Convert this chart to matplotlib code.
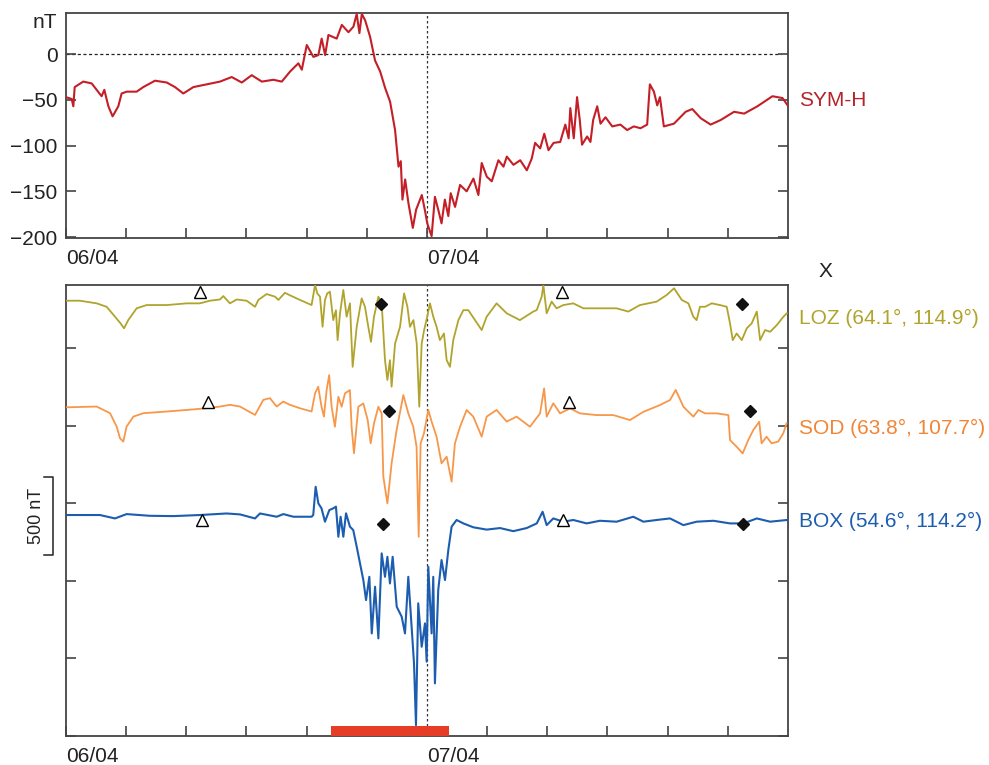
import numpy as np
import matplotlib.pyplot as plt
import matplotlib.transforms as mtransforms

plt.rcParams['font.family'] = ['Liberation Sans', 'DejaVu Sans']

# ---- SYM-H (hours from 06/04 00:00, nT) ----
symh_t = [0, 0.38, 0.49, 0.58, 1.15, 1.71, 2.04, 2.37, 2.55, 2.82,
          3.10, 3.48, 3.70, 4.04, 4.70, 5.14, 5.92, 6.70, 7.25, 7.80,
          8.47, 9.36, 10.24, 11.02, 11.69, 12.35, 13.02, 13.79, 14.35, 14.90,
          15.45, 15.68, 16.01, 16.45, 16.78, 17.0, 17.23, 17.45, 18.0, 18.34,
          18.78, 19.11, 19.33, 19.51, 19.67, 19.89, 20.22, 20.55, 20.89, 21.22,
          21.55, 21.88, 22.11, 22.26, 22.37, 22.55, 22.77, 23.06, 23.28, 23.66,
          23.88, 24.02, 24.31, 24.53, 24.75, 24.97, 25.19, 25.42, 25.58, 25.87,
          26.2, 26.64, 27.09, 27.42, 27.64, 27.98, 28.31, 28.75, 29.09, 29.31,
          29.75, 30.2, 30.64, 30.97, 31.19, 31.53, 31.8, 32.08, 32.42, 32.86,
          33.2, 33.42, 33.53, 33.76, 33.98, 34.16, 34.31, 34.65, 34.87, 35.05,
          35.32, 35.54, 35.87, 36.32, 36.86, 37.31, 37.75, 38.2, 38.64, 38.82,
          39.09, 39.31, 39.49, 39.75, 40.42, 41.2, 41.64, 42.2, 42.86, 43.53,
          44.42, 45.09, 45.97, 46.97, 47.64, 47.98]
symh_v = [-47, -49, -57, -36, -30, -32, -39, -46, -39, -57,
          -68, -57, -43, -41, -41, -36, -29, -31, -36, -43,
          -36, -33, -30, -25, -31, -23, -30, -28, -30, -19,
          -10, -17, 10, -3, -1, 17, -1, 21, 17, 32,
          24, 30, 44, 23, 44, 37, 19, -7, -19, -37,
          -52, -83, -123, -117, -159, -137, -163, -190, -170, -154,
          -172, -185, -199, -156, -170, -185, -159, -177, -152, -167,
          -143, -150, -136, -154, -119, -134, -139, -116, -123, -112,
          -121, -116, -127, -114, -97, -103, -87, -105, -97, -96,
          -77, -92, -59, -92, -47, -72, -99, -90, -96, -72,
          -57, -76, -69, -79, -77, -83, -79, -81, -77, -33,
          -41, -56, -47, -79, -76, -63, -60, -70, -77, -72,
          -63, -65, -57, -46, -48, -56]

# ---- X component, stacked with offsets (nT) ----
loz_t = [0, 0.93, 2.04, 2.7, 3.26, 3.63, 3.86, 4.14, 4.7, 5.36, 6.7, 8.02, 8.9, 9.57,
         10.24, 10.46, 10.9, 11.35, 12.01, 12.57, 12.79, 13.34, 13.9, 14.12, 14.56, 14.89,
         15.56, 16.33,
         16.56, 16.71, 16.89, 17.06, 17.22, 17.37, 17.55, 17.77, 17.95, 18.06, 18.22, 18.44,
         18.66, 18.88, 19.06, 19.33, 19.66, 19.88, 20.1, 20.28, 20.48, 20.77, 20.99, 21.21,
         21.37, 21.54, 21.65, 21.88, 22.21, 22.48, 22.7, 22.87, 23.1, 23.32, 23.49, 23.65,
         23.81, 24.02, 24.2, 24.42, 24.64, 24.86, 25.13, 25.31, 25.53, 25.75, 26.09,
         26.42, 26.75, 27.64, 27.97, 28.63, 29.3, 30.18, 31.07,
         31.3, 31.63, 31.74, 31.96, 32.29, 32.62, 33.07, 33.73, 34.4, 35.28, 36.61, 37.39,
         38.16, 39.27, 39.94, 40.43, 40.94, 41.38, 41.71, 41.93, 42.15, 42.49, 42.93, 43.48,
         43.93, 44.15, 44.33, 44.59, 44.93, 45.26, 45.59, 45.93, 46.15, 46.48, 46.82, 47.26,
         47.7, 47.93]
loz_v = [2805, 2805, 2788, 2766, 2702, 2659, 2627, 2680, 2756, 2777, 2777, 2788, 2788, 2805,
         2813, 2835, 2788, 2813, 2805, 2766, 2810, 2848, 2831, 2810, 2856, 2840,
         2810, 2777,
         2906, 2852, 2831, 2637, 2810, 2852, 2863, 2680, 2744, 2551, 2723, 2874,
         2702, 2788, 2379, 2637, 2820, 2766, 2637, 2540, 2702, 2831, 2788, 2422,
         2294, 2422, 2251, 2529, 2637, 2852, 2766, 2637, 2680, 2529, 2122, 2529,
         2615, 2702, 2788, 2702, 2637, 2551, 2594, 2422, 2379, 2551, 2680,
         2744, 2744, 2616, 2702, 2788, 2724, 2680, 2735,
         2745, 2831, 2906, 2724, 2799, 2756, 2777, 2788, 2756, 2756, 2756, 2735,
         2777, 2799, 2842, 2885, 2810, 2788, 2702, 2680, 2766, 2766, 2788, 2777,
         2766, 2659, 2551, 2594, 2551, 2627, 2659, 2735, 2551, 2616, 2605, 2648,
         2702, 2724]

sod_t = [0, 2.04, 2.93, 3.37, 3.59, 3.81, 4.03, 4.48, 5.14, 6.7, 8.02, 9.35, 10.24, 10.9,
         11.57, 12.57, 13.12, 13.56, 14.01, 14.45, 14.89, 15.56, 16.33,
         16.56, 16.77, 16.99, 17.15, 17.33, 17.5, 17.66, 17.88, 18.11, 18.33, 18.55, 18.88,
         18.99, 19.15, 19.44, 19.77, 20.06, 20.26, 20.48, 20.77, 20.99,
         21.1, 21.37, 21.65, 21.98, 22.43, 22.76, 23.09, 23.31, 23.45, 23.58, 23.8, 24.09,
         24.31, 24.64, 24.97, 25.31, 25.64, 25.86, 26.2, 26.64, 27.08, 27.64, 27.97, 28.63,
         29.3, 29.96, 30.85,
         31.52, 31.79, 31.96, 32.4, 32.85, 33.51, 34.18, 35.28, 36.39, 37.5, 38.39, 39.5,
         40.16, 40.54, 41.05, 41.71, 42.05, 42.49, 43.26, 44.04, 44.15, 44.59, 44.99, 45.36,
         45.7, 46.09, 46.25, 46.58, 46.91, 47.35, 47.69, 47.91]
sod_v = [2118, 2123, 2080, 1994, 1919, 1897, 1994, 2058, 2080, 2091, 2101, 2112, 2123, 2134,
         2123, 2069, 2166, 2177, 2123, 2155, 2134, 2112, 2091,
         2208, 2251, 2122, 2058, 2229, 2326, 2122, 1993, 2186, 2122, 2208, 2229,
         1993, 1822, 2122, 2143, 2036, 1886, 2015, 2122, 2079,
         1671, 1499, 1757, 1971, 2197, 2079, 1993, 1864, 1284, 1886, 1950, 2101,
         2026, 1929, 1757, 1800, 1639, 1886, 1993, 2101, 2058, 1929, 2058, 2101,
         2026, 2058, 1993,
         2079, 2240, 2058, 2144, 2079, 2111, 2079, 2068, 2068, 2036, 2089, 2133,
         2165, 2230, 2122, 2058, 2101, 2079, 2079, 2068, 1907, 1864, 1821, 1907,
         1972, 2025, 1886, 1929, 1886, 1897, 1950, 2015]

box_t = [0, 2.26, 3.26, 4.03, 5.58, 7.14, 8.9, 10.68, 11.57, 12.57, 12.9, 14.01, 14.45,
         15.12, 16.33,
         16.44, 16.6, 16.78, 16.99, 17.22, 17.51, 17.77, 17.95, 18.11, 18.26, 18.44, 18.62,
         18.88, 19.1, 19.33, 19.55, 19.77, 19.95, 20.17, 20.33, 20.55, 20.77, 20.99, 21.21,
         21.37, 21.54, 21.72, 21.99, 22.32, 22.54, 22.76, 22.98, 23.14, 23.27, 23.42, 23.65,
         23.87, 23.98, 24.09, 24.31, 24.42, 24.53, 24.75, 24.97, 25.2, 25.42, 25.64, 25.97,
         26.42,
         27.08, 27.97, 28.86, 29.74, 30.63,
         31.3, 31.69, 31.96, 32.4, 33.07, 33.73, 34.62, 35.5, 36.61, 37.72, 38.39, 39.27,
         40.16, 41.05, 41.93, 43.04, 44.15, 45.04, 45.93, 46.82, 47.93]
box_v = [1424, 1424, 1402, 1430, 1419, 1417, 1424, 1434, 1428, 1402, 1434, 1413, 1430,
         1413, 1413,
         1424, 1606, 1499, 1467, 1381, 1456, 1467, 1478, 1284, 1413, 1284, 1435,
         1349, 1327, 1220, 1112, 1005, 876, 1026, 661, 962, 629, 1177, 1026,
         1155, 983, 1155, 833, 769, 661, 1026, 704, 468, 70, 855, 575,
         726, 479, 1091, 661, 1026, 339, 940, 1134, 1005, 1198, 1349, 1392,
         1370,
         1345, 1330, 1340, 1320, 1340,
         1370, 1445, 1359, 1402, 1381, 1392, 1370, 1387, 1381, 1413, 1381, 1392,
         1402, 1359, 1381, 1387, 1370, 1370, 1402, 1381, 1392]

# markers: open triangles and filled diamonds (hour, nT)
tri_t = [8.91, 9.44, 9.04, 32.98, 33.44, 33.05]
tri_v = [2861, 2152, 1392, 2861, 2152, 1392]
dia_t = [20.94, 21.48, 21.08, 44.95, 45.48, 45.01]
dia_v = [2783, 2094, 1366, 2783, 2094, 1366]

bar_start, bar_end = 17.6, 25.45

stations = ["LOZ (64.1°, 114.9°)", "SOD (63.8°, 107.7°)", "BOX (54.6°, 114.2°)"]
station_y = [2693, 1984, 1385]

red = "#c41e26"
col_loz = "#b0a42c"
col_sod = "#f7974a"
col_box = "#1c5db0"
col_lab_sod = "#f28535"
spine_c = "#444444"
fs = 15

fig = plt.figure(figsize=(9.89, 7.65), dpi=100)
ax1 = fig.add_axes([0.0667, 0.6889, 0.7300, 0.2941])
ax2 = fig.add_axes([0.0667, 0.0379, 0.7300, 0.5895])

for ax in (ax1, ax2):
    ax.set_xlim(0, 48)
    ax.set_xticks(np.arange(0, 48, 4))
    ax.set_xticklabels(["06/04", "", "", "", "", "", "07/04", "", "", "", "", ""],
                       ha="left", fontsize=fs, color="#222222")
    ax.tick_params(axis="x", direction="in", length=7, width=1.2, color=spine_c, pad=8)
    ax.tick_params(axis="y", direction="in", length=7, width=1.2, color=spine_c,
                   left=True, right=True, labelsize=fs, labelcolor="#222222", pad=6)
    for s in ax.spines.values():
        s.set_color(spine_c)
        s.set_linewidth(1.3)
    ax.axvline(24, color="#333333", lw=0.9, ls=(0, (2, 2)), zorder=1)

# top panel
ax1.plot(symh_t, symh_v, color=red, lw=1.5, zorder=3)
ax1.axhline(0, xmax=0.99, color="#222222", lw=0.9, ls=(0, (2.5, 2)), zorder=1)
ax1.set_ylim(-201, 45)
ax1.set_yticks([0, -50, -100, -150, -200])
ax1.text(-0.0125, 0.96, "nT", transform=ax1.transAxes, ha="right", va="center",
         fontsize=fs, color="#222222")
ax1.text(1.016, 0.613, "SYM-H", transform=ax1.transAxes, ha="left", va="center",
         fontsize=fs, color="#b5232a")

# bottom panel
ax2.plot(loz_t, loz_v, color=col_loz, lw=1.3, zorder=3)
ax2.plot(sod_t, sod_v, color=col_sod, lw=1.3, zorder=3)
ax2.plot(box_t, box_v, color=col_box, lw=1.5, zorder=3)
ax2.plot(tri_t, tri_v, ls="none", marker="^", ms=8, mfc="white", mec="black", mew=1.0, zorder=4)
ax2.plot(dia_t, dia_v, ls="none", marker="D", ms=6, mfc="#111111", mec="#111111", zorder=4)
ax2.axvspan(bar_start, bar_end, ymin=0, ymax=0.023, color="#e63e26", lw=0, zorder=5)
ax2.set_ylim(0, 2906)
ax2.set_yticks([0, 500, 1000, 1500, 2000, 2500])
ax2.set_yticklabels([])

tr = mtransforms.blended_transform_factory(ax2.transAxes, ax2.transData)
label_cols = [col_loz, col_lab_sod, col_box]
for name, yv, c in zip(stations, station_y, label_cols):
    ax2.text(1.016, yv, name, transform=tr, ha="left", va="center", fontsize=fs, color=c)
ax2.text(1.052, 1.03, "X", transform=ax2.transAxes, ha="center", va="center",
         fontsize=fs, color="#222222")

# 500 nT scale bar
ax2.plot([-0.030, -0.018, -0.018, -0.030], [1667, 1667, 1167, 1167], color="#222222",
         lw=1.1, transform=tr, clip_on=False)
ax2.text(-0.041, 1417, "500 nT", transform=tr, rotation=90, ha="center", va="center",
         fontsize=13, color="#222222")

fig.savefig("out.png", dpi=100)
